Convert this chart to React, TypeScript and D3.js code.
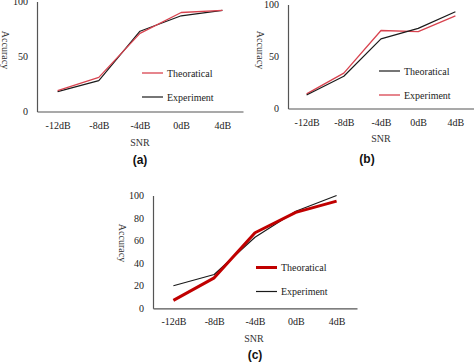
import React, { useEffect, useRef } from 'react';
import * as d3 from 'd3';

// SNR categories shared by all three panels
const categories = ['-12dB', '-8dB', '-4dB', '0dB', '4dB'];

// (a)
const aTheoretical = [19, 31, 71, 90, 92];
const aExperiment = [18, 28, 73, 87, 92];
// (b)
const bTheoretical = [13, 31, 67, 77, 93];
const bExperiment = [14, 34, 75, 74, 89];
// (c)
const cTheoretical = [7, 27, 67, 85, 95];
const cExperiment = [20, 30, 63, 86, 100];

const abTicks = [0, 50, 100];
const cTicks = [0, 20, 40, 60, 80, 100];

const RED = '#d8434f';
const DARK_RED = '#c00000';
const SERIF = "'Liberation Serif', 'DejaVu Serif', 'Times New Roman', serif";

const App = () => {
  const svgRef = useRef<SVGSVGElement>(null);

  useEffect(() => {
    const svg = d3.select(svgRef.current);
    svg.selectAll('*').remove();

    const panels = [
      {
        tag: '(a)',
        x0: 37, x1: 243, yBottom: 111.5, yTop: 1.5,
        ticks: abTicks,
        snr: [140, 142], tagPos: [140, 160], accuracy: [5, 50],
        legend: [142, 73],
        series: [
          { name: 'Theoratical', values: aTheoretical, color: RED, width: 1.3 },
          { name: 'Experiment', values: aExperiment, color: '#1a1a1a', width: 1.2 },
        ],
      },
      {
        tag: '(b)',
        x0: 288, x1: 474, yBottom: 108.5, yTop: 4.5,
        ticks: abTicks,
        snr: [381, 138], tagPos: [367, 159], accuracy: [260, 50],
        legend: [379, 71],
        series: [
          { name: 'Theoratical', values: bTheoretical, color: '#1a1a1a', width: 1.2 },
          { name: 'Experiment', values: bExperiment, color: RED, width: 1.3 },
        ],
      },
      {
        tag: '(c)',
        x0: 153, x1: 357, yBottom: 308.3, yTop: 195.5,
        ticks: cTicks,
        snr: [254, 338], tagPos: [255, 355], accuracy: [122, 243],
        legend: [256, 267.5],
        series: [
          { name: 'Theoratical', values: cTheoretical, color: DARK_RED, width: 3 },
          { name: 'Experiment', values: cExperiment, color: '#1a1a1a', width: 1.2 },
        ],
      },
    ];

    panels.forEach((p) => {
      const g = svg.append('g');

      const x = d3.scalePoint().domain(categories).range([p.x0, p.x1]).padding(0.5);
      const y = d3.scaleLinear().domain([0, 100]).range([p.yBottom, p.yTop]);

      // X axis
      const xAxis = g
        .append('g')
        .attr('transform', `translate(0,${p.yBottom})`)
        .call(d3.axisBottom(x).tickSize(0).tickPadding(10));
      xAxis.attr('font-family', null);
      xAxis.select('.domain').attr('stroke', '#555').attr('stroke-width', 1.2);
      xAxis
        .selectAll('text')
        .style('font-family', SERIF)
        .style('font-size', '10px')
        .attr('fill', '#222');

      // Y axis
      const yAxis = g
        .append('g')
        .attr('transform', `translate(${p.x0},0)`)
        .call(d3.axisLeft(y).tickValues(p.ticks).tickSize(0).tickPadding(9));
      yAxis.attr('font-family', null);
      yAxis.select('.domain').attr('stroke', '#555').attr('stroke-width', 1.2);
      yAxis
        .selectAll('text')
        .style('font-family', SERIF)
        .style('font-size', '10px')
        .attr('fill', '#222');

      // Lines
      const line = d3
        .line<number>()
        .x((_, i) => x(categories[i]) as number)
        .y((d) => y(d));

      p.series
        .slice()
        .reverse()
        .forEach((s) => {
          g.append('path')
            .datum(s.values)
            .attr('d', line)
            .attr('fill', 'none')
            .attr('stroke', s.color)
            .attr('stroke-width', s.width)
            .attr('stroke-linejoin', 'round');
        });

      // Legend
      p.series.forEach((s, i) => {
        const ly = p.legend[1] + i * 24;
        g.append('line')
          .attr('x1', p.legend[0])
          .attr('x2', p.legend[0] + 21)
          .attr('y1', ly)
          .attr('y2', ly)
          .attr('stroke', s.color)
          .attr('stroke-width', s.width);
        g.append('text')
          .attr('x', p.legend[0] + 25)
          .attr('y', ly)
          .attr('dy', '0.35em')
          .style('font-family', SERIF)
          .style('font-size', '10px')
          .attr('fill', '#222')
          .text(s.name);
      });

      // Axis titles
      g.append('text')
        .attr('x', p.snr[0])
        .attr('y', p.snr[1])
        .attr('dy', '0.35em')
        .attr('text-anchor', 'middle')
        .style('font-family', SERIF)
        .style('font-size', '10px')
        .attr('fill', '#333')
        .text('SNR');

      g.append('text')
        .attr('transform', `translate(${p.accuracy[0]},${p.accuracy[1]}) rotate(90)`)
        .attr('dy', '0.35em')
        .attr('text-anchor', 'middle')
        .style('font-family', SERIF)
        .style('font-size', '10px')
        .attr('fill', '#333')
        .text('Accuracy');

      // Panel tag
      g.append('text')
        .attr('x', p.tagPos[0])
        .attr('y', p.tagPos[1])
        .attr('dy', '0.35em')
        .attr('text-anchor', 'middle')
        .style('font-family', "'Liberation Sans', Arial, sans-serif")
        .style('font-weight', 'bold')
        .style('font-size', '12px')
        .attr('fill', '#111')
        .text(p.tag);
    });
  }, []);

  return (
    <svg
      ref={svgRef}
      width={474}
      height={362}
      style={{ position: 'absolute', left: 0, top: 0, background: '#fff' }}
    />
  );
};

export default App;
